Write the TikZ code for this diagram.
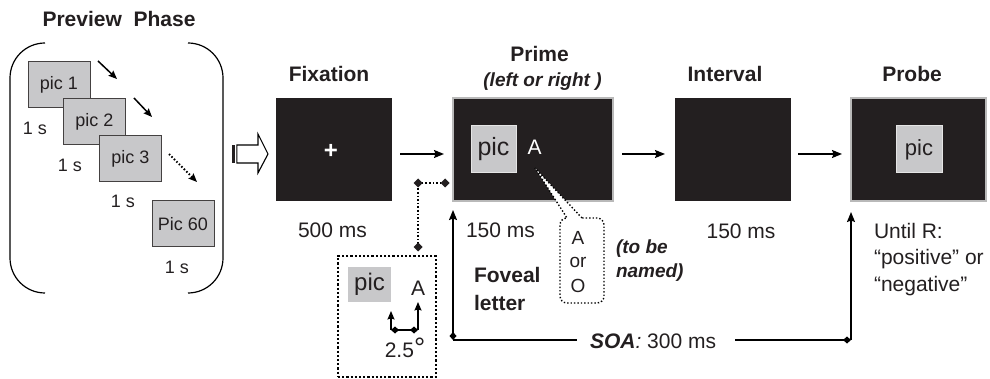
\documentclass[tikz,border=0pt]{standalone}
\usepackage{fontspec}
\setmainfont{Liberation Sans}
\usetikzlibrary{arrows.meta,calc}
\definecolor{boxblack}{RGB}{35,31,32}
\definecolor{picgray}{RGB}{200,200,202}
\definecolor{ink}{RGB}{35,31,32}
\tikzset{
  diatip/.tip={Diamond[length=8pt,width=7pt]},
  bigtip/.tip={Stealth[length=10pt,width=8pt,inset=1.5pt]},
  smalltip/.tip={Stealth[length=8.5pt,width=7pt,inset=1.2pt]}
}
\begin{document}
\begin{tikzpicture}[x=1pt,y=-1pt,
  every node/.style={inner sep=0pt, outer sep=0pt, text=ink},
  txt/.style={font=\fontsize{21}{25}\selectfont},
  smalltxt/.style={font=\fontsize{18}{21}\selectfont},
  ttl/.style={font=\bfseries\fontsize{21}{25}\selectfont},
  bitxt/.style={font=\bfseries\itshape\fontsize{19}{23}\selectfont},
  screen/.style={fill=boxblack, draw=none, minimum width=116pt, minimum height=103pt},
  framedscreen/.style={fill=boxblack, draw=gray!55, line width=1.2pt, minimum height=103pt},
  picbox/.style={fill=picgray, draw=ink!85, line width=1pt, minimum width=62pt, minimum height=46pt, font=\fontsize{18}{21}\selectfont},
  innerpic/.style={fill=picgray, draw=white!80!gray, line width=1pt, minimum width=45pt, minimum height=47pt},
  arr/.style={line width=1.5pt, -{bigtip}},
  smallarr/.style={line width=1.5pt, -{smalltip}},
  conn/.style={line width=1.5pt},
]
\useasboundingbox (0,0) rectangle (990,379);

% ---------- Preview phase ----------
\node[ttl, anchor=base] (prevttl) at (119,27) {Preview~~Phase};
\draw[line width=1.2pt, rounded corners=35] (45,43) -- (10,43) -- (10,293) -- (45,293);
\draw[line width=1.2pt, rounded corners=35] (188,43) -- (223,43) -- (223,293) -- (188,293);

\node[picbox] (p1) at (59,85) {pic 1};
\node[picbox] (p2) at (94.5,122) {pic 2};
\node[picbox] (p3) at (130.5,159) {pic 3};
\node[picbox] (p60) at (183,224) {Pic 60};

\node[smalltxt, anchor=base] (t1) at (35,135) {1 s};
\node[smalltxt, anchor=base] (t2) at (70,172) {1 s};
\node[smalltxt, anchor=base] (t3) at (123,208) {1 s};
\node[smalltxt, anchor=base] (t4) at (177,273) {1 s};

\coordinate (a1s) at (98,61);  \coordinate (a1e) at (117,79);
\coordinate (a2s) at (134,98); \coordinate (a2e) at (152,117);
\coordinate (a3s) at (169,154); \coordinate (a3e) at (197,182);
\draw[smallarr] (a1s) -- (a1e);
\draw[smallarr] (a2s) -- (a2e);
\draw[smallarr, dotted, line width=2pt] (a3s) -- (a3e);

% ---------- open arrow ----------
\fill[ink] (232,145) rectangle (235,163);
\draw[line width=1.1pt, fill=white] (236.8,145) -- (258,145) -- (258,134) -- (268,154) -- (258,173) -- (258,163) -- (236.8,163) -- cycle;

% ---------- screens ----------
\node[screen] (fix) at (334,149.5) {};
\node[text=white, font=\bfseries\fontsize{24}{26}\selectfont] (plus) at (331,151) {+};

\node[framedscreen, minimum width=160pt] (prime) at (533,149.5) {};
\node[innerpic, font=\fontsize{25}{28}\selectfont] (ppic) at (493.5,149.5) {pic};
\node[txt, text=white, anchor=base] (pA) at (534.5,155) {A};

\node[screen] (intv) at (733,149.5) {};

\node[framedscreen, minimum width=135pt] (probe) at (918.5,149.5) {};
\node[innerpic, minimum width=46pt, font=\fontsize{22}{25}\selectfont] (qpic) at (919,149.5) {pic};

\draw[arr, shorten <=8pt, shorten >=9pt] ([yshift=-4.5pt]fix.east) -- ([yshift=-4.5pt]prime.west);
\draw[arr, shorten <=9pt, shorten >=10pt] ([yshift=-4.5pt]prime.east) -- ([yshift=-4.5pt]intv.west);
\draw[arr, shorten <=7pt, shorten >=9pt] ([yshift=-4.5pt]intv.east) -- ([yshift=-4.5pt]probe.west);

% ---------- titles ----------
\node[ttl, anchor=base] (fixttl) at (329,82) {Fixation};
\node[ttl, anchor=base] (primettl) at (539.5,62) {Prime};
\node[bitxt, anchor=base] (primesub) at (542.5,87) {(left or right )};
\node[ttl, anchor=base] (intvttl) at (725,82) {Interval};
\node[ttl, anchor=base] (probettl) at (912,82) {Probe};

% ---------- durations ----------
\node[txt, anchor=base] (d1) at (332.5,238) {500 ms};
\node[txt, anchor=base] (d2) at (500.5,238) {150 ms};
\node[txt, anchor=base] (d3) at (741,239) {150 ms};
\node[txt, anchor=base west] (u1) at (874,238.5) {Until R:};
\node[txt, anchor=base west] (u2) at (874,265) {“positive” or};
\node[txt, anchor=base west] (u3) at (874,291) {“negative”};

% ---------- callout ----------
\draw[dotted, line width=1.4pt, fill=white] (582,218) -- (535,168) -- (567,218) [rounded corners=7] -- (560,218) -- (560,303) -- (604,303) -- (604,218) [sharp corners] -- cycle;
\node[font=\fontsize{19}{23}\selectfont, anchor=base] (cA) at (578,245) {A};
\node[font=\fontsize{19}{23}\selectfont, anchor=base] (cor) at (578,268) {or};
\node[font=\fontsize{19}{23}\selectfont, anchor=base] (cO) at (578,292) {O};
\node[bitxt, anchor=base west] (named1) at (616,254) {(to be};
\node[bitxt, anchor=base west] (named2) at (616,278) {named)};

\node[ttl, anchor=base west] (fov1) at (474,283) {Foveal};
\node[ttl, anchor=base west] (fov2) at (474,310) {letter};

% ---------- SOA ----------
\coordinate (soaL) at (453,340);
\coordinate (soaR) at (851,340);
\node[txt, anchor=base west] (soa) at (590,348) {\textbf{\textit{SOA}}\textit{:} 300 ms};
\draw[conn, {diatip}-{bigtip}] (soaL) -- ([yshift=-9pt]prime.south west);
\draw[conn] (soaL) -- ([xshift=-13pt]soa.west |- soaL);
\draw[conn, -{diatip}] ([xshift=19pt]soa.east |- soaR) -- (soaR);
\draw[conn, -{bigtip}] (soaR) -- ([yshift=-11pt]probe.south west);

% ---------- inset ----------
\coordinate (dq1) at (445,183);
\coordinate (dq2) at (418,183);
\coordinate (dq3) at (418,247);
\draw[dotted, line width=1.6pt] (dq1) -- (dq2) -- (dq3);
\foreach \c in {dq1,dq2,dq3} \fill[ink] ($(\c)+(-4.5,0)$) -- ($(\c)+(0,-4.5)$) -- ($(\c)+(4.5,0)$) -- ($(\c)+(0,4.5)$) -- cycle;

\node[draw, dotted, line width=2.2pt, minimum width=98pt, minimum height=121pt] (inset) at (387,316.5) {};
\node[fill=picgray, minimum width=43pt, minimum height=35pt, font=\fontsize{24}{27}\selectfont] (ipic) at (369.5,284.5) {pic};
\node[txt, anchor=base] (iA) at (418,295) {A};
\coordinate (ia) at (418,330);
\coordinate (ib) at (391,330);
\draw[conn, {diatip}-{diatip}] (ib) -- (ia);
\draw[conn, -{smalltip}] (ia) -- (418,302);
\draw[conn, -{smalltip}] (ib) -- (391,311);
\node[txt, anchor=base] (deg) at (405,357) {2.5{\fontsize{28}{28}\selectfont°}};
\end{tikzpicture}
\end{document}
